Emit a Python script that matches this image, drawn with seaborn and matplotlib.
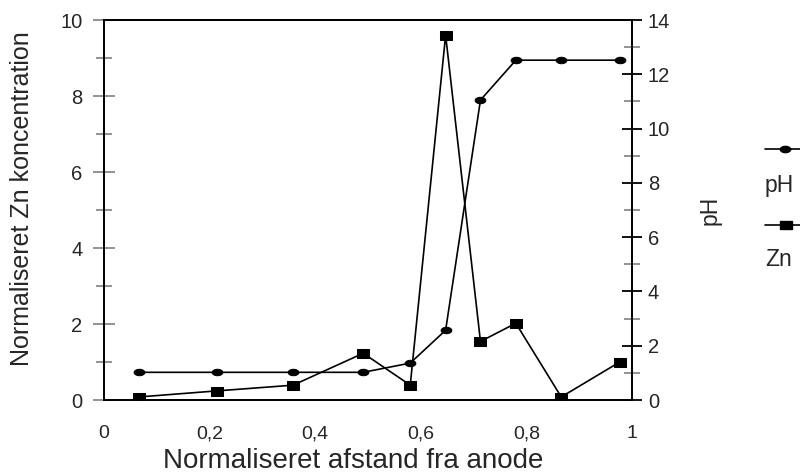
import matplotlib
matplotlib.use("Agg")
import matplotlib.pyplot as plt
from matplotlib.lines import Line2D
from matplotlib.path import Path
from matplotlib.ticker import MultipleLocator, FuncFormatter
import seaborn as sns
import numpy as np
import pandas as pd

# Data
afstand = [0.066, 0.214, 0.358, 0.491, 0.580, 0.647, 0.713, 0.780, 0.866, 0.978]
zn = [0.08, 0.24, 0.39, 1.23, 0.39, 9.6, 1.54, 2.02, 0.08, 1.01]
ph = [1.02, 1.02, 1.02, 1.02, 1.36, 2.57, 11.05, 12.52, 12.52, 12.52]

df = pd.DataFrame({"afstand": afstand, "Zn": zn, "pH": ph})

sns.set_style("white")
plt.rcParams["font.family"] = ["Liberation Sans", "DejaVu Sans"]

# slightly wide markers like the reference
t = np.linspace(0, 2 * np.pi, 40)
ellipse = Path(np.column_stack([np.cos(t), 0.6 * np.sin(t)]), closed=True)
rect = Path([(-1, -0.72), (1, -0.72), (1, 0.72), (-1, 0.72), (-1, -0.72)], closed=True)

W, H = 800.0, 473.0
x0, x1, y0, y1 = 104, 632, 20, 400
fig = plt.figure(figsize=(8, 4.73), dpi=100)
ax = fig.add_axes([x0 / W, 1 - y1 / H, (x1 - x0) / W, (y1 - y0) / H])
ax2 = ax.twinx()

sns.lineplot(data=df, x="afstand", y="Zn", ax=ax, color="black", marker=rect,
             markersize=9, markeredgecolor="black", linewidth=1.2, sort=False)
sns.lineplot(data=df, x="afstand", y="pH", ax=ax2, color="black", marker=ellipse,
             markersize=7.7, markeredgecolor="black", linewidth=1.2, sort=False)

ax.set_xlim(0, 1)
ax.set_ylim(0, 10)
ax2.set_ylim(0, 14)

comma = FuncFormatter(lambda v, p: ("%g" % round(v, 2)).replace(".", ","))
ax.xaxis.set_major_locator(MultipleLocator(0.2))
ax.xaxis.set_minor_locator(MultipleLocator(0.1))
ax.xaxis.set_major_formatter(comma)
ax.yaxis.set_major_locator(MultipleLocator(2))
ax.yaxis.set_minor_locator(MultipleLocator(1))
ax2.yaxis.set_major_locator(MultipleLocator(2))
ax2.yaxis.set_minor_locator(MultipleLocator(1))

grey = "#8a8a8a"
ax.tick_params(axis="x", which="both", direction="inout", length=12, width=1.3,
               color=grey, labelsize=14, pad=12, top=False)
ax.tick_params(axis="y", which="major", direction="inout", length=16, width=1.3,
               color=grey, labelsize=14.5, pad=7.5)
ax.tick_params(axis="y", which="minor", direction="inout", length=12, width=1.3,
               color=grey)
ax2.tick_params(axis="y", which="major", direction="inout", length=14, width=1.3,
                color="black", labelsize=14.5, pad=4.5)
ax2.tick_params(axis="y", which="minor", direction="inout", length=11, width=1.3,
                color=grey)

for a in (ax, ax2):
    for s in a.spines.values():
        s.set_color("black")
        s.set_linewidth(1.3)
        s.set_visible(True)

ax.set_xlabel("Normaliseret afstand fra anode", fontsize=20)
ax.set_ylabel("Normaliseret Zn koncentration", fontsize=18)
ax2.set_ylabel("pH", fontsize=16.5)
aw, ah = x1 - x0, y1 - y0
ax.xaxis.set_label_coords((353 - x0) / aw, -(468 - y1) / ah)
ax.xaxis.label.set_va("baseline")
ax.yaxis.set_label_coords(-(x0 - 22.5) / aw, (y1 - 198.5) / ah)
ax.yaxis.label.set_va("center")
ax2.yaxis.set_label_coords((710 - x0) / aw, (y1 - 210) / ah)
ax2.yaxis.label.set_va("center")
ax.grid(False)
ax2.grid(False)

# Legend (handles above labels, as in the reference)
def fx(px):
    return px / W

def fy(py):
    return 1 - py / H

fig.add_artist(Line2D([fx(765), fx(800)], [fy(149), fy(149)], color="black", lw=1.2,
                      transform=fig.transFigure))
fig.add_artist(Line2D([fx(785)], [fy(149)], color="black", marker=ellipse, markersize=7.5,
                      transform=fig.transFigure))
fig.text(fx(765), fy(192), "pH", fontsize=16.5, va="baseline", ha="left")
fig.add_artist(Line2D([fx(765), fx(800)], [fy(225), fy(225)], color="black", lw=1.2,
                      transform=fig.transFigure))
fig.add_artist(Line2D([fx(786)], [fy(225)], color="black", marker=rect, markersize=8.5,
                      transform=fig.transFigure))
fig.text(fx(765), fy(266), "Zn", fontsize=16.5, va="baseline", ha="left")

fig.savefig("out.png", dpi=100)
